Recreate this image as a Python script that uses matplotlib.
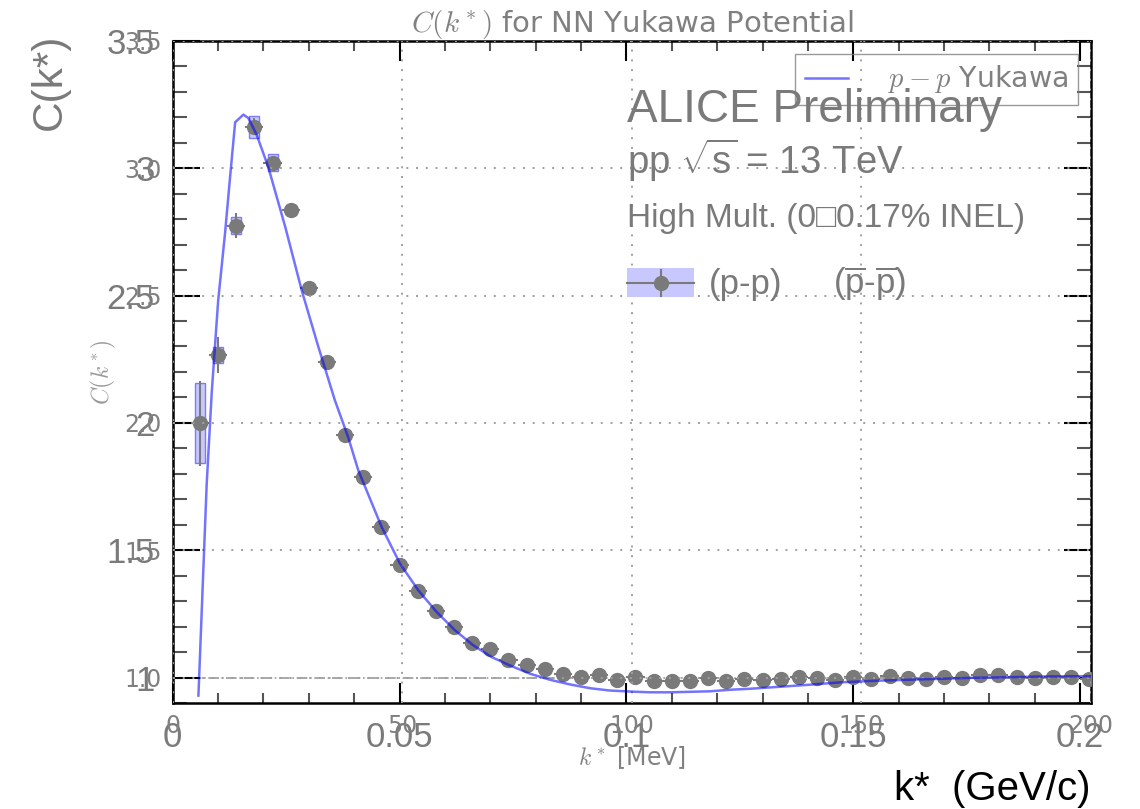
import matplotlib.pyplot as plt
from matplotlib.patches import Rectangle
from matplotlib.lines import Line2D
from matplotlib.ticker import MultipleLocator

# ALICE pp correlation (background ROOT-style plot), k* in GeV/c
kstar_gev = [0.006, 0.010, 0.014, 0.018, 0.022, 0.026, 0.030, 0.034, 0.038, 0.042,
             0.046, 0.050, 0.054, 0.058, 0.062, 0.066, 0.070, 0.074, 0.078, 0.082,
             0.086, 0.090, 0.094, 0.098, 0.102, 0.106, 0.110, 0.114, 0.118, 0.122,
             0.126, 0.130, 0.134, 0.138, 0.142, 0.146, 0.150, 0.154, 0.158, 0.162,
             0.166, 0.170, 0.174, 0.178, 0.182, 0.186, 0.190, 0.194, 0.198, 0.202]
ck_data = [1.998, 2.266, 2.774, 3.163, 3.021, 2.835, 2.530, 2.240, 1.952, 1.788,
           1.592, 1.441, 1.339, 1.262, 1.199, 1.136, 1.111, 1.071, 1.052, 1.035,
           1.016, 1.002, 1.009, 0.993, 1.002, 0.989, 0.987, 0.989, 1.000, 0.989,
           0.996, 0.992, 0.996, 1.003, 0.999, 0.990, 1.003, 0.994, 1.008, 0.999,
           0.995, 1.003, 1.000, 1.009, 1.009, 1.003, 1.000, 1.003, 1.005, 0.996]
stat_err = [0.167, 0.070, 0.048, 0.035, 0.025, 0.015, 0.012, 0.010, 0.010, 0.009,
            0.009, 0.008, 0.008, 0.008, 0.007, 0.007, 0.007, 0.007, 0.006, 0.006,
            0.006, 0.006, 0.006, 0.006, 0.006, 0.006, 0.006, 0.006, 0.006, 0.006,
            0.006, 0.006, 0.006, 0.006, 0.006, 0.006, 0.006, 0.006, 0.006, 0.006,
            0.006, 0.006, 0.006, 0.006, 0.006, 0.006, 0.006, 0.006, 0.006, 0.006]
sys_err = [0.157, 0.032, 0.033, 0.043, 0.033, 0.020, 0.015, 0.012, 0.010, 0.010,
           0.009, 0.008, 0.008, 0.007, 0.007, 0.006, 0.006, 0.006, 0.005, 0.005,
           0.005, 0.005, 0.005, 0.005, 0.005, 0.005, 0.005, 0.005, 0.005, 0.005,
           0.005, 0.005, 0.005, 0.005, 0.005, 0.005, 0.005, 0.005, 0.005, 0.005,
           0.005, 0.005, 0.005, 0.005, 0.005, 0.005, 0.005, 0.005, 0.005, 0.005]

root_xticks = [0, 0.05, 0.1, 0.15, 0.2]
root_xlabels = ['0', '0.05', '0.1', '0.15', '0.2']
root_yticks = [1.0, 1.5, 2.0, 2.5, 3.0, 3.5]
root_ylabels = ['1', '1.5', '2', '2.5', '3', '3.5']

# Yukawa potential model, k* in MeV
k_model = [5.6, 7.4, 8.5, 9.9, 11.4, 12.5, 13.6, 15.4, 16.5, 18.3,
           20.8, 24.5, 28.1, 31.7, 35.3, 38.2, 40.4, 45.5, 49.5, 53.5,
           57.5, 61.5, 65.5, 69.5, 73.5, 77.8, 82.2, 86.5, 90.9, 95.2,
           99.6, 104.0, 108.4, 112.7, 117.1, 121.4, 125.8, 130.8, 138.1, 145.3,
           152.6, 159.8, 167.1, 174.3, 181.6, 188.9, 196.1, 200.0]
ck_model = [0.93, 1.76, 2.12, 2.48, 2.745, 2.966, 3.18, 3.21, 3.196, 3.13,
            3.005, 2.77, 2.52, 2.30, 2.09, 1.945, 1.815, 1.592, 1.448, 1.343,
            1.258, 1.186, 1.127, 1.081, 1.048, 1.016, 0.992, 0.974, 0.959, 0.950,
            0.946, 0.943, 0.943, 0.945, 0.947, 0.953, 0.957, 0.963, 0.972, 0.982,
            0.988, 0.992, 0.996, 1.000, 1.002, 1.005, 1.006, 1.006]

mpl_xticks = [0, 50, 100, 150, 200]
mpl_yticks = [1.0, 1.5, 2.0, 2.5, 3.0, 3.5]

plt.rcParams['font.family'] = 'DejaVu Sans'
plt.rcParams['mathtext.fontset'] = 'cm'
plt.rcParams['mathtext.rm'] = 'Liberation Sans'
plt.rcParams['mathtext.it'] = 'Liberation Sans:italic'
plt.rcParams['mathtext.sf'] = 'Liberation Sans'

ROOT_GREY = '#7a7a7a'
MPL_GREY = '#808080'
ROOT_FONT = ['Liberation Sans', 'DejaVu Sans']

fig = plt.figure(figsize=(11.4, 8.09), dpi=100)
rect = [0.1515, 0.1307, 0.8055, 0.819]
rax = fig.add_axes(rect)
ax = fig.add_axes(rect)
ax.set_facecolor('none')

# ---- background: ALICE preliminary plot ----
rax.set_xlim(0, 0.2024)
rax.set_ylim(0.9, 3.5)
rax.axhline(1.0, color='#9a9a9a', ls='-.', lw=1.2, zorder=1)
for k, c, s in zip(kstar_gev, ck_data, sys_err):
    rax.add_patch(Rectangle((k - 0.0011, c - s), 0.0022, 2 * s,
                            facecolor='#c8c8ff', edgecolor='#7b7bff', lw=1, zorder=2))
rax.errorbar(kstar_gev, ck_data, xerr=0.002, yerr=stat_err, fmt='o', ms=10,
             color=ROOT_GREY, ecolor=ROOT_GREY, elinewidth=1.5, capsize=0, zorder=3)

rax.set_xticks(root_xticks)
rax.set_xticklabels(root_xlabels)
rax.set_yticks(root_yticks)
rax.set_yticklabels(root_ylabels)
rax.xaxis.set_minor_locator(MultipleLocator(0.01))
rax.yaxis.set_minor_locator(MultipleLocator(0.1))
rax.tick_params(which='both', direction='in', top=True, right=True, width=1.5,
                labelsize=25, labelcolor=ROOT_GREY, labelfontfamily='Liberation Sans')
rax.tick_params(axis='x', which='major', length=14.5, color='k', pad=13)
rax.tick_params(axis='x', which='minor', length=7, color='#555555')
rax.tick_params(axis='y', which='major', length=19.5, color='k', pad=13)
rax.tick_params(axis='y', which='minor', length=10, color='#555555')
for sp in rax.spines.values():
    sp.set_linewidth(1.8)
    sp.set_color('k')

W, H = 1140, 809
def fx(px):
    return px / W
def fy(py):
    return 1 - py / H

fig.text(fx(627), fy(122), 'ALICE Preliminary', fontsize=33, color=ROOT_GREY,
         family=ROOT_FONT, va='baseline')
fig.text(fx(627), fy(174), r'pp $\sqrt{\mathrm{s}}$ = 13 TeV', fontsize=27.5,
         color=ROOT_GREY, family=ROOT_FONT, va='baseline', math_fontfamily='custom')
fig.text(fx(627), fy(227), 'High Mult. (0\u25a10.17% INEL)', fontsize=24,
         color=ROOT_GREY, family=ROOT_FONT, va='baseline')
fig.patches.append(Rectangle((fx(627), fy(297)), fx(694) - fx(627), fy(268) - fy(297),
                             transform=fig.transFigure, facecolor='#c8c8ff',
                             edgecolor='none', figure=fig))
fig.lines.append(Line2D([fx(627), fx(694)], [fy(283), fy(283)], color=ROOT_GREY,
                        lw=1.5, transform=fig.transFigure, figure=fig))
fig.lines.append(Line2D([fx(661), fx(661)], [fy(270), fy(296)], color=ROOT_GREY,
                        lw=1.5, transform=fig.transFigure, figure=fig))
fig.lines.append(Line2D([fx(661)], [fy(283)], marker='o', ms=10, color=ROOT_GREY,
                        transform=fig.transFigure, figure=fig))
fig.text(fx(709), fy(294), '(p-p)', fontsize=25, color=ROOT_GREY,
         family=ROOT_FONT, va='baseline')
fig.text(fx(833), fy(294), r'($\overline{\mathrm{p}}$-$\overline{\mathrm{p}}$)',
         fontsize=25, color=ROOT_GREY, family=ROOT_FONT, va='baseline',
         math_fontfamily='custom')
fig.text(fx(1090), fy(800), 'k*  (GeV/c)', fontsize=29, color='black',
         family=ROOT_FONT, ha='right', va='baseline')
fig.text(fx(50), fy(34), 'C(k*)', fontsize=30.5, color=ROOT_GREY, family=ROOT_FONT,
         rotation=90, ha='center', va='top')

# ---- foreground: matplotlib model overlay ----
ax.plot(k_model, ck_model, color='blue', alpha=0.55, lw=1.8, label='$p-p$ Yukawa')
ax.set_xlim(0, 200)
ax.set_ylim(0.9, 3.5)
ax.set_xticks(mpl_xticks)
ax.set_xticklabels([str(v) for v in mpl_xticks])
ax.set_yticks(mpl_yticks)
ax.set_yticklabels(['%.1f' % v for v in mpl_yticks])
ax.grid(True, ls=(0, (1, 4)), color='#a0a0a0', lw=1.4)
for sp in ax.spines.values():
    sp.set_visible(False)
ax.tick_params(length=0, labelsize=17, labelcolor=MPL_GREY, pad=8)
ax.set_title(r'$C(k^*)$ for NN Yukawa Potential', fontsize=21, color=MPL_GREY)
ax.set_xlabel(r'$k^*$ [MeV]', fontsize=17, color=MPL_GREY)
ax.set_ylabel(r'$C(k^*)$', fontsize=17, color='#999999')
ax.legend(loc='upper right', fontsize=20.5, frameon=True, fancybox=False,
          handlelength=1.5, handletextpad=1.4, borderaxespad=0.45, borderpad=0.35,
          edgecolor=MPL_GREY, facecolor='none', labelcolor=MPL_GREY)

fig.savefig('out.png', dpi=100)
